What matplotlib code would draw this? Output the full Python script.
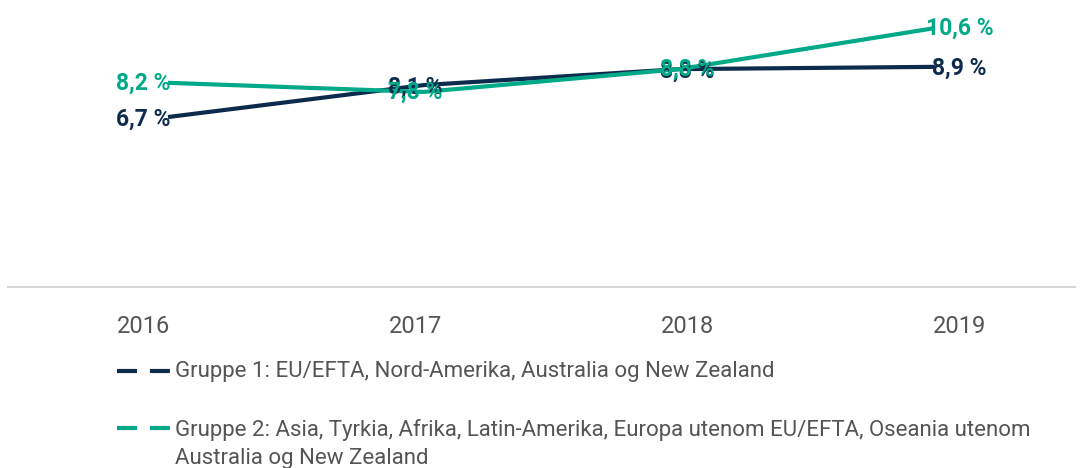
import numpy as np
import matplotlib.pyplot as plt
from matplotlib.lines import Line2D

plt.rcParams['font.family'] = ['Roboto', 'DejaVu Sans']

years = ['2016', '2017', '2018', '2019']
gruppe1 = [6.7, 8.1, 8.8, 8.9]
gruppe2 = [8.2, 7.8, 8.8, 10.6]
navn1 = 'Gruppe 1: EU/EFTA, Nord-Amerika, Australia og New Zealand'
navn2 = ('Gruppe 2: Asia, Tyrkia, Afrika, Latin-Amerika, Europa utenom EU/EFTA, Oseania utenom\n'
         'Australia og New Zealand')

c1 = '#0d2b4c'
c2 = '#00a987'
grey = '#555555'

W, H = 1085, 468
fig = plt.figure(figsize=(W / 100, H / 100), dpi=100)
ax = fig.add_axes([8 / W, (H - 287) / H, 1067 / W, 287 / H])

x = np.arange(len(years))
# tick labels sit a bit wider apart than the line points
xl = 1.5 + (x - 1.5) * 1.064

ax.plot(x, gruppe1, color=c1, lw=3, solid_capstyle='butt', zorder=2)
ax.plot(x, gruppe2, color=c2, lw=3, solid_capstyle='butt', zorder=3)

for i in range(len(years)):
    ax.text(xl[i], gruppe1[i] - 0.08, f'{gruppe1[i]:.1f} %'.replace('.', ','), color=c1,
            fontsize=16.5, fontweight='bold', ha='center', va='center', zorder=4)
    ax.text(xl[i], gruppe2[i], f'{gruppe2[i]:.1f} %'.replace('.', ','), color=c2,
            fontsize=16.5, fontweight='bold', ha='center', va='center', zorder=5)

ax.set_xlim(-0.626, 3.548)
ax.set_ylim(-0.75, 11.83)
ax.set_xticks(xl)
ax.set_xticklabels(years, fontsize=17, color=grey)
ax.tick_params(axis='x', length=0, pad=20)
ax.set_yticks([])
for s in ['top', 'left', 'right']:
    ax.spines[s].set_visible(False)
ax.spines['bottom'].set_color('#d6d6d6')
ax.spines['bottom'].set_linewidth(1.5)
ax.patch.set_alpha(0)

# legend drawn by hand: dashed key + text, second entry wraps
for col, lab, yc, yt in [(c1, navn1, 371, 371), (c2, navn2, 428, 444)]:
    fig.add_artist(Line2D([117 / W, 171 / W], [1 - yc / H, 1 - yc / H], transform=fig.transFigure,
                          color=col, lw=3, dashes=(4.8, 3.1), dash_capstyle='butt'))
    fig.text(175 / W, 1 - yt / H, lab, color=grey, fontsize=16, va='center', linespacing=1.45)

fig.savefig('out.png', dpi=100)
